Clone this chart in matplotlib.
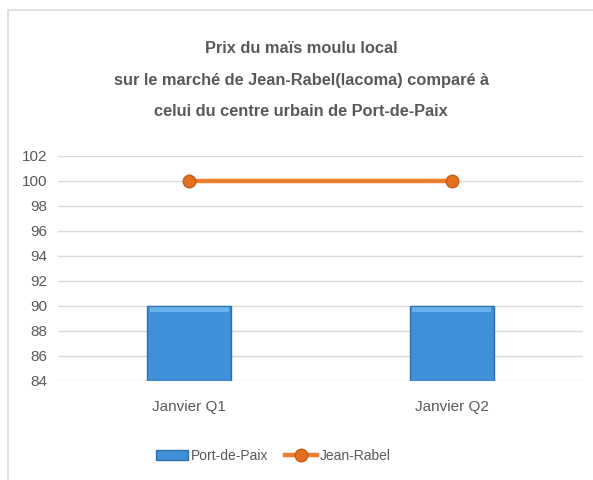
import matplotlib
matplotlib.use("Agg")
import matplotlib.pyplot as plt
from matplotlib.patches import Rectangle
from matplotlib import font_manager

categories = ["Janvier Q1", "Janvier Q2"]
port_de_paix = [90, 90]
jean_rabel = [100, 100]
yticks = [84, 86, 88, 90, 92, 94, 96, 98, 100, 102]
title_lines = ["Prix du maïs moulu local",
               "sur le marché de Jean-Rabel(lacoma) comparé à",
               "celui du centre urbain de Port-de-Paix"]

names = {f.name for f in font_manager.fontManager.ttflist}
fam = ["Liberation Sans Narrow"] if "Liberation Sans Narrow" in names else ["Liberation Sans"]
plt.rcParams["font.family"] = fam + ["DejaVu Sans"]

fig = plt.figure(figsize=(5.93, 4.80), dpi=100)
fig.patches.append(Rectangle((8/593, -0.1), 1.2, (480-10)/480 + 0.1, transform=fig.transFigure,
                             fill=False, edgecolor="#d9d9d9", linewidth=1.2))
ax = fig.add_axes([58/593, (480-381)/480, (583-58)/593, (381-156)/480])

x = range(len(categories))
bars = ax.bar(x, [v - 84 for v in port_de_paix], bottom=84, width=0.32, color="#3f8fd9",
              edgecolor="#2f6eaa", linewidth=1.0, zorder=3, label="Port-de-Paix")
# subtle top highlight on each bar (bevel look)
for p in bars.patches:
    ax.add_patch(Rectangle((p.get_x() + p.get_width() * 0.03, p.get_y() + p.get_height() * 0.92),
                           p.get_width() * 0.94, p.get_height() * 0.06,
                           facecolor="#74c2f5", edgecolor="none", alpha=0.7, zorder=3.5))
ax.plot(x, jean_rabel, color="#ed7d31", linewidth=3.2, marker="o", markersize=9,
        markerfacecolor="#e2701f", markeredgecolor="#c65a12", zorder=4, label="Jean-Rabel")

ax.set_xlim(-0.5, 1.5)
ax.set_ylim(84, 102)
ax.set_yticks(yticks)
ax.set_xticks(list(x))
ax.set_xticklabels(categories)
ax.grid(axis="y", color="#d9d9d9", linewidth=1.0, zorder=0)
for s in ax.spines.values():
    s.set_visible(False)
ax.tick_params(axis="both", length=0, labelsize=11, colors="#595959", pad=8)
ax.tick_params(axis="x", pad=14)

baselines = [53, 85, 116]
for line, b in zip(title_lines, baselines):
    fig.text(301/593, 1 - b/480, line, ha="center", va="baseline", fontsize=11.8, fontweight="bold",
             color="#595959")

h, l = ax.get_legend_handles_labels()
order = [l.index("Port-de-Paix"), l.index("Jean-Rabel")]
fig.legend([h[i] for i in order], [l[i] for i in order], loc="center",
           bbox_to_anchor=(273/593, 1 - 456/480), ncol=2, frameon=False,
           fontsize=10, labelcolor="#595959", handlelength=2.3, columnspacing=1.2, handletextpad=0.2)

fig.savefig("out.png", dpi=100)
